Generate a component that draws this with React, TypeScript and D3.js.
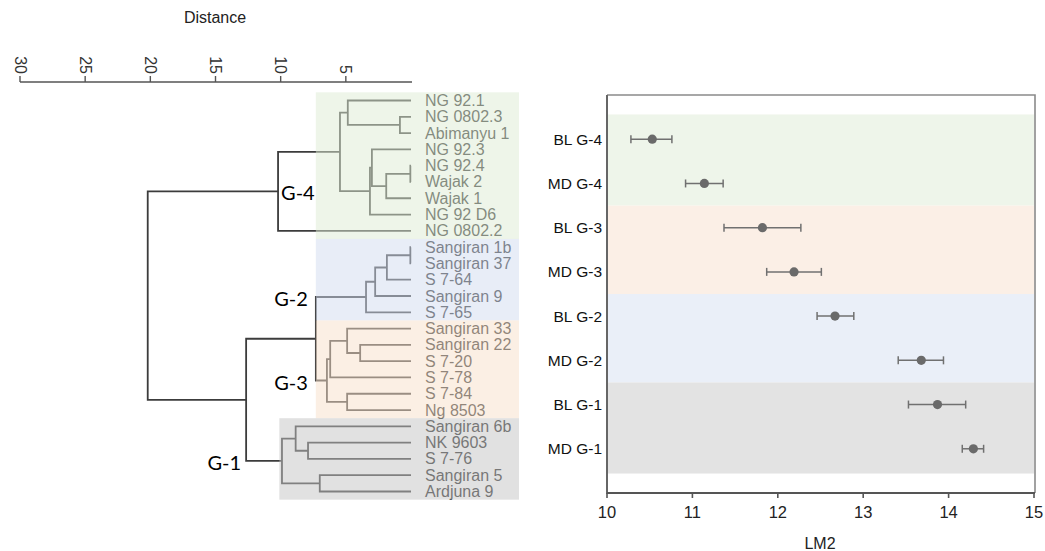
import React from 'react';
import * as d3 from 'd3';

// ---------- Dendrogram data ----------
const leafNames = [
  'NG 92.1', 'NG 0802.3', 'Abimanyu 1', 'NG 92.3', 'NG 92.4', 'Wajak 2', 'Wajak 1', 'NG 92 D6', 'NG 0802.2',
  'Sangiran 1b', 'Sangiran 37', 'S 7-64', 'Sangiran 9', 'S 7-65',
  'Sangiran 33', 'Sangiran 22', 'S 7-20', 'S 7-78', 'S 7-84', 'Ng 8503',
  'Sangiran 6b', 'NK 9603', 'S 7-76', 'Sangiran 5', 'Ardjuna 9',
];
// linkage: merge i creates node "n{i}"
const mergeA = ['NG 0802.3', 'NG 92.1', 'NG 92.4', 'n2', 'NG 92.3', 'n4', 'n1', 'n6',
  'Sangiran 1b', 'n8', 'n9', 'n10',
  'Sangiran 22', 'Sangiran 33', 'n13', 'S 7-84', 'n14', 'n11',
  'NK 9603', 'Sangiran 6b', 'Sangiran 5', 'n19', 'n17', 'n7'];
const mergeB = ['Abimanyu 1', 'n0', 'Wajak 2', 'Wajak 1', 'n3', 'NG 92 D6', 'n5', 'NG 0802.2',
  'Sangiran 37', 'S 7-64', 'Sangiran 9', 'S 7-65',
  'S 7-20', 'n12', 'S 7-78', 'Ng 8503', 'n15', 'n16',
  'S 7-76', 'n18', 'Ardjuna 9', 'n20', 'n21', 'n22'];
const mergeDist = [0.85, 4.85, 0.05, 1.9, 3.0, 3.15, 5.45, 10.2,
  0.05, 1.85, 2.75, 3.45,
  3.9, 4.9, 6.2, 4.9, 6.45, 7.3,
  7.9, 8.85, 7.0, 9.9, 12.65, 20.2];

const groupLabels = ['G-4', 'G-2', 'G-3', 'G-1'];
const groupNodes = ['n7', 'n11', 'n16', 'n21'];
const groupFirstLeaf = ['NG 92.1', 'Sangiran 1b', 'Sangiran 33', 'Sangiran 6b'];
const groupLastLeaf = ['NG 0802.2', 'S 7-65', 'Ng 8503', 'Ardjuna 9'];
const groupOverlay = ['#ddebd3', '#d1dbef', '#f7dfc9', '#c3c3c3'];

const distTicks = [30, 25, 20, 15, 10, 5];

// ---------- LM2 data ----------
const lmCategories = ['BL G-4', 'MD G-4', 'BL G-3', 'MD G-3', 'BL G-2', 'MD G-2', 'BL G-1', 'MD G-1'];
const lmMean = [10.53, 11.14, 11.82, 12.19, 12.67, 13.68, 13.87, 14.29];
const lmLow = [10.28, 10.92, 11.37, 11.87, 12.46, 13.41, 13.53, 14.16];
const lmHigh = [10.76, 11.36, 12.27, 12.51, 12.89, 13.94, 14.20, 14.41];
const lmTicks = [10, 11, 12, 13, 14, 15];
const bandFirst = ['BL G-4', 'BL G-3', 'BL G-2', 'BL G-1'];
const bandLast = ['MD G-4', 'MD G-3', 'MD G-2', 'MD G-1'];
const bandColors = ['#eef5ea', '#fbefe6', '#eaeff8', '#e3e3e3'];

const FONT = "'Liberation Sans', Arial, Helvetica, sans-serif";

export default function App() {
  const W = 1045, H = 551;

  // dendrogram scales
  const xD = d3.scaleLinear().domain([30, 0]).range([20, 411]);
  const yLeaf = d3.scalePoint<string>().domain(leafNames).range([100.5, 491.5]);
  const step = yLeaf.step();

  const nodes: Record<string, { x: number; y: number }> = {};
  leafNames.forEach((n) => (nodes[n] = { x: xD(0), y: yLeaf(n)! }));
  const links: string[] = [];
  mergeA.forEach((a, i) => {
    const b = mergeB[i];
    const na = nodes[a], nb = nodes[b];
    const x = xD(mergeDist[i]);
    const y = (na.y + nb.y) / 2;
    nodes['n' + i] = { x, y };
    links.push(`M${na.x},${na.y}H${x}V${nb.y}H${nb.x}`);
  });

  const innerLeft = nodes['n17'].x;
  const g1Left = xD(10.1);
  const boxRight = 519;

  // LM2 scales
  const xL = d3.scaleLinear().domain([10, 15]).range([607, 1034]);
  const yL = d3.scalePoint<string>().domain(lmCategories).range([95, 493]).padding(1);
  const st = yL.step();
  const top = 95, bottom = 493;

  return (
    <svg width={W} height={H} style={{ position: 'absolute', left: 0, top: 0, background: '#fff' }}
      fontFamily={FONT}>
      {/* Distance axis */}
      <text x={215} y={23} textAnchor="middle" fontSize={16} fill="#222">Distance</text>
      <line x1={xD(30)} x2={412} y1={82} y2={82} stroke="#555" strokeWidth={1.6} />
      {distTicks.map((t) => (
        <g key={t} transform={`translate(${xD(t)},82)`}>
          <line y1={0} y2={-6} stroke="#555" strokeWidth={1.4} />
          <text transform="translate(0,-8) rotate(90)" textAnchor="end" dominantBaseline="central"
            fontSize={16} fill="#333">{t}</text>
        </g>
      ))}

      {/* Dendrogram */}
      {links.map((d, i) => (
        <path key={i} d={d} fill="none" stroke="#3c3c3c" strokeWidth={1.8} />
      ))}
      {leafNames.map((n) => (
        <text key={n} x={425} y={yLeaf(n)!} dominantBaseline="central" fontSize={16} fill="#2a2a2a">{n}</text>
      ))}
      {groupLabels.map((g, i) => {
        const y0 = yLeaf(groupFirstLeaf[i])! - step / 2;
        const y1 = yLeaf(groupLastLeaf[i])! + step / 2;
        const x0 = g === 'G-1' ? g1Left : innerLeft;
        return <rect key={g} x={x0} y={y0} width={boxRight - x0} height={y1 - y0}
          fill={groupOverlay[i]} fillOpacity={0.5} />;
      })}
      {groupLabels.map((g, i) => {
        const n = nodes[groupNodes[i]];
        let x = n.x + 3, anchor = 'start';
        if (g === 'G-2' || g === 'G-3') { x = innerLeft - 8; anchor = 'end'; }
        if (g === 'G-1') { x = nodes['n22'].x - 5; anchor = 'end'; }
        return <text key={g} x={x} y={n.y + 1} textAnchor={anchor} dominantBaseline="central"
          fontFamily="Lato, 'Open Sans', sans-serif" fontSize={20} fill="#000">{g}</text>;
      })}

      {/* LM2 panel */}
      {bandFirst.map((b, i) => {
        const y0 = i === 0 ? yL(b)! - st * 0.56 : yL(b)! - st / 2;
        const y1 = i === bandFirst.length - 1 ? yL(bandLast[i])! + st * 0.56 : yL(bandLast[i])! + st / 2;
        return <rect key={b} x={xL(10) + 1} y={y0} width={xL(15) - xL(10) - 1} height={y1 - y0} fill={bandColors[i]} />;
      })}
      <path d={`M${xL(10)},${top}H${xL(15) + 1}V${bottom}`} fill="none" stroke="#8a8a8a" strokeWidth={1.6} />
      <line x1={xL(10)} x2={xL(10)} y1={top} y2={bottom + 1} stroke="#666" strokeWidth={2} />
      <line x1={xL(10)} x2={xL(15) + 1} y1={bottom} y2={bottom} stroke="#555" strokeWidth={2} />
      {lmTicks.map((t) => (
        <g key={t} transform={`translate(${xL(t)},${bottom})`}>
          <line y1={0} y2={5} stroke="#555" strokeWidth={1.6} />
          <text y={19} textAnchor="middle" dominantBaseline="central" fontSize={16.5} fill="#222">{t}</text>
        </g>
      ))}
      <text x={820} y={543} textAnchor="middle" dominantBaseline="central" fontSize={16} fill="#222">LM2</text>
      {lmCategories.map((c, i) => {
        const y = yL(c)!;
        return (
          <g key={c}>
            <text x={602} y={y} textAnchor="end" dominantBaseline="central" fontSize={15.5} fill="#111">{c}</text>
            <line x1={xL(lmLow[i])} x2={xL(lmHigh[i])} y1={y} y2={y} stroke="#707070" strokeWidth={1.5} />
            <line x1={xL(lmLow[i])} x2={xL(lmLow[i])} y1={y - 4} y2={y + 4} stroke="#707070" strokeWidth={1.5} />
            <line x1={xL(lmHigh[i])} x2={xL(lmHigh[i])} y1={y - 4} y2={y + 4} stroke="#707070" strokeWidth={1.5} />
            <circle cx={xL(lmMean[i])} cy={y} r={4.6} fill="#6a6a6a" />
          </g>
        );
      })}
    </svg>
  );
}
